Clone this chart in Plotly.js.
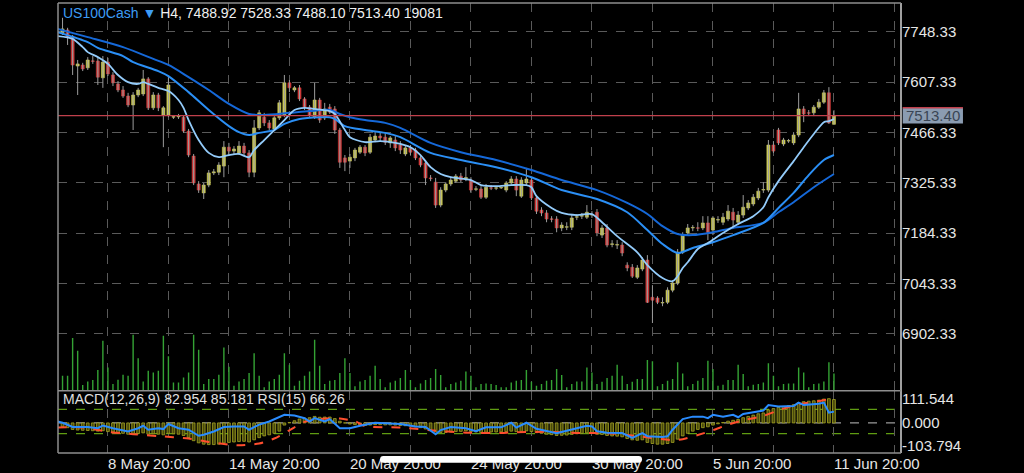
<!DOCTYPE html>
<html><head><meta charset="utf-8">
<script src="https://cdn.plot.ly/plotly-3.0.1.min.js"></script>
<style>html,body{margin:0;padding:0;background:#000;}#chart{width:1024px;height:473px;}</style>
</head><body><div id="chart"></div>
<script>
// ---------- text ----------
const symbolName = "US100Cash \u25BC";
const headerText = "H4, 7488.92 7528.33 7488.10 7513.40 19081";
const indicatorLabel = "MACD(12,26,9) 82.954 85.181 RSI(15) 66.26";
const lastPrice = 7513.40;
const lastPriceText = "7513.40";
const priceTicks = [6902.33, 7043.33, 7184.33, 7325.33, 7466.33, 7607.33, 7748.33];
const macdTicks = [-103.794, 0, 111.544];
const macdTickText = ["-103.794", "0.000", "111.544"];
const timeTickBars = [10, 22, 34, 46, 58, 70, 82, 94, 106, 118, 130, 142, 154, 166];
const timeTickLabels = ["8 May 20:00", "", "14 May 20:00", "", "20 May 20:00", "", "24 May 20:00", "", "30 May 20:00", "", "5 Jun 20:00", "", "11 Jun 20:00", ""];

// ---------- H4 candles (bar 1 .. 154) ----------
const open = [7745,7753,7733,7652,7655,7647,7666,7666,7619,7663,
7627,7602,7585,7568,7543,7571,7574,7616,7535,7571,
7515,7515,7509,7510,7509,7470,7400,7322,7297,7319,
7353,7355,7372,7425,7414,7409,7428,7409,7355,7479,
7509,7493,7476,7507,7515,7605,7585,7591,7560,7537,
7509,7557,7507,7537,7532,7473,7395,7386,7395,7411,
7425,7411,7445,7456,7453,7437,7445,7431,7406,7423,
7417,7395,7381,7339,7327,7263,7305,7322,7330,7344,
7337,7333,7307,7308,7285,7311,7310,7311,7305,7325,
7336,7288,7325,7333,7283,7249,7241,7224,7224,7199,
7201,7201,7229,7232,7229,7235,7243,7179,7199,7153,
7151,7151,7095,7089,7061,7084,7109,7005,7003,6989,
6991,7025,7045,7131,7185,7199,7199,7199,7213,7193,
7221,7215,7224,7243,7215,7235,7255,7266,7283,7305,
7305,7431,7473,7434,7442,7437,7459,7532,7521,7521,
7537,7551,7577,7488.92];
const high = [7787,7759,7739,7669,7661,7677,7680,7675,7680,7675,
7635,7610,7596,7577,7579,7591,7641,7621,7579,7577,
7540,7621,7515,7518,7515,7476,7406,7330,7325,7361,
7364,7383,7442,7437,7428,7442,7437,7417,7501,7529,
7521,7501,7512,7557,7627,7613,7596,7599,7565,7543,
7605,7563,7549,7546,7540,7479,7403,7406,7423,7431,
7431,7462,7467,7465,7465,7456,7456,7442,7431,7431,
7423,7403,7389,7347,7339,7313,7327,7341,7350,7353,
7369,7341,7316,7316,7322,7319,7316,7313,7330,7344,
7344,7341,7367,7341,7288,7257,7249,7232,7232,7215,
7215,7235,7238,7241,7263,7246,7252,7207,7210,7165,
7165,7159,7103,7098,7095,7117,7123,7039,7008,7005,
7033,7053,7140,7187,7210,7207,7215,7232,7232,7232,
7232,7241,7263,7255,7246,7291,7277,7294,7311,7327,
7445,7442,7479,7451,7448,7467,7577,7540,7529,7543,
7560,7585,7593,7528.33];
const low = [7739,7711,7627,7571,7638,7641,7658,7599,7591,7624,
7596,7579,7563,7537,7473,7565,7568,7529,7529,7526,
7425,7509,7504,7504,7465,7397,7319,7297,7280,7313,
7347,7347,7341,7406,7403,7403,7400,7341,7341,7473,
7484,7473,7470,7501,7509,7579,7579,7554,7529,7507,
7504,7493,7501,7518,7462,7367,7358,7367,7386,7406,
7400,7406,7439,7442,7431,7423,7414,7406,7400,7403,
7389,7369,7319,7330,7255,7257,7299,7316,7325,7327,
7330,7297,7302,7280,7280,7305,7305,7308,7299,7319,
7288,7283,7319,7277,7238,7232,7215,7215,7187,7190,
7193,7193,7221,7224,7224,7227,7176,7171,7145,7145,
7140,7120,7078,7059,7056,7078,6989,6933,6986,6980,
6986,7019,7039,7126,7179,7190,7190,7193,7165,7179,
7213,7207,7218,7199,7207,7227,7249,7260,7277,7297,
7299,7409,7431,7428,7437,7431,7453,7495,7512,7512,
7532,7546,7490,7488.10];
const close = [7756,7733,7655,7658,7644,7669,7665,7621,7663,7630,
7605,7585,7568,7543,7571,7585,7616,7535,7571,7535,
7535,7599,7510,7512,7470,7403,7325,7305,7319,7353,
7356,7375,7425,7414,7420,7428,7409,7355,7479,7521,
7493,7479,7507,7549,7605,7591,7591,7560,7537,7515,
7557,7501,7532,7523,7473,7383,7383,7397,7417,7425,
7409,7453,7456,7451,7439,7451,7423,7417,7423,7411,
7395,7375,7339,7337,7263,7305,7322,7333,7344,7333,
7340,7305,7308,7285,7313,7310,7311,7311,7325,7336,
7305,7333,7336,7283,7246,7241,7224,7223,7199,7207,
7202,7227,7230,7233,7243,7236,7185,7199,7151,7154,
7152,7129,7087,7064,7087,7109,6991,6997,6991,6990,
7025,7045,7131,7179,7199,7200,7198,7213,7187,7227,
7222,7229,7246,7221,7235,7257,7269,7285,7302,7306,
7431,7414,7437,7445,7443,7459,7532,7518,7520,7537,
7551,7577,7493,7513.40];
const volume = [16500,16500,58100,44100,6250,10300,11800,22800,55200,25700,
7350,12100,17600,16500,61800,35700,10300,22100,20200,22100,
60700,37900,9200,9200,14700,20200,61800,45200,7350,12900,
12900,17600,47800,26500,5500,10300,12900,19500,41200,16500,
3700,10300,12900,17600,41200,28700,5500,11000,16500,21300,
56300,27600,7350,11000,11800,19500,35700,19500,4800,10300,
11800,16500,27600,12900,3700,9200,11000,14000,22800,11800,
3700,8100,11800,14000,23900,17300,3700,7350,9200,11000,
21300,16500,3700,7350,8100,7350,6250,3700,3700,9200,
11000,11800,22800,9900,5500,7350,11000,11800,23900,17300,
3700,7350,10300,10300,25700,20200,7350,9900,14000,16500,
28700,16500,7350,9900,12900,12900,33800,32400,4800,7350,
11000,12900,31300,19100,4800,7350,11000,14000,33100,23900,
5500,6600,11800,11800,28700,18400,4800,6600,7350,9200,
30200,16500,4800,7350,8100,8100,25700,20200,3700,7350,
8100,10300,31300,19081];
const macdMain = [-18,-22,-30,-33,-34,-35,-36,-38,-36,-40,
-42,-45,-48,-52,-50,-49,-46,-52,-50,-52,
-55,-48,-50,-52,-58,-68,-82,-92,-98,-100,
-100,-98,-92,-90,-88,-86,-85,-88,-78,-68,
-60,-55,-48,-38,-10,2,10,18,22,24,
30,26,27,27,20,8,0,-5,-8,-10,
-12,-10,-8,-8,-9,-9,-10,-12,-13,-15,
-18,-22,-28,-32,-42,-44,-44,-42,-40,-39,
-37,-40,-42,-44,-43,-42,-42,-41,-40,-38,
-40,-39,-37,-40,-45,-48,-52,-54,-58,-57,
-56,-53,-50,-48,-46,-45,-52,-53,-58,-60,
-61,-64,-72,-78,-80,-78,-90,-95,-98,-98,
-95,-90,-75,-60,-48,-38,-30,-22,-18,-10,
-4,2,8,12,16,24,30,36,42,46,
60,66,72,76,80,84,94,98,100,102,
105,110,112,108];

// ---------- indicator lines read at sampled bars ----------
const ma1Bar = [0,3,5,6,8,10,12,14,16,17,18,20,22,24,25,26,28,30,32,34,36,38,39,41,43,45,47,49,51,54,55,57,58,61,64,67,70,72,74,76,78,82,84,87,90,93,94,95,98,100,103,106,108,111,115,117,120,122,123,124,125,127,129,132,135,138,140,141,143,146,148,150,152,153,154];
const ma1Val = [7736,7728,7705,7691,7677,7658,7627,7607,7602,7607,7602,7591,7582,7557,7535,7501,7445,7409,7397,7403,7406,7397,7417,7445,7473,7501,7529,7535,7532,7526,7518,7473,7453,7439,7442,7437,7425,7403,7369,7350,7341,7333,7319,7316,7319,7319,7313,7288,7255,7241,7235,7238,7215,7176,7131,7095,7059,7050,7064,7087,7103,7140,7157,7185,7210,7232,7257,7285,7330,7386,7425,7462,7495,7498,7504];
const ma2Bar = [0,6,8,13,15,20,22,26,30,34,36,38,40,43,45,48,52,54,55,57,61,65,68,74,80,87,94,100,107,113,117,120,123,126,130,134,140,143,146,149,152,154];
const ma2Val = [7747,7719,7703,7680,7663,7638,7624,7579,7529,7484,7467,7459,7465,7473,7490,7504,7509,7509,7504,7484,7473,7465,7453,7409,7389,7369,7341,7305,7280,7243,7193,7154,7129,7143,7159,7179,7213,7255,7297,7347,7389,7403];
const ma3Bar = [0,6,13,19,22,26,30,34,38,41,46,50,54,56,58,61,65,68,74,80,87,94,100,107,113,117,120,123,126,130,134,140,143,146,150,154];
const ma3Val = [7756,7733,7705,7672,7655,7621,7585,7546,7518,7515,7521,7526,7529,7518,7509,7501,7493,7479,7437,7411,7389,7361,7333,7305,7269,7238,7204,7182,7179,7187,7199,7213,7243,7271,7313,7350];
const signalBar = [0,5,10,15,20,26,30,34,36,40,43,46,49,53,56,59,61,68,74,81,88,90,97,103,110,116,122,124,127,130,133,136,140,143,146,150,153,154];
const signalVal = [-21,-21,-41,-52,-61,-72,-88,-100,-103,-95,-72,-34,5,20,20,8,-15,-21,-34,-45,-46,-44,-41,-46,-49,-64,-79,-75,-56,-34,-8,12,32,58,81,97,109,112];
const rsiBar = [0,1,3,6,8,9,11,14,16,17,18,20,21,22,24,26,28,29,31,33,35,37,38,40,42,43,45,47,49,50,51,53,54,56,58,60,63,65,68,71,73,75,76,78,81,83,85,88,90,91,93,95,97,99,101,103,105,106,107,109,112,114,116,117,120,121,122,124,126,128,129,130,132,134,135,136,140,141,143,146,147,148,151,152,153,154];
const rsiVal = [50,48,41,41,39,43.5,39,33.7,39,43,36.5,39,37.6,46,39,36.5,26.7,28.3,33.7,41,42,42,36.5,45,50,54,61,60,55.5,50,55.5,50,54,39,39,43,48,47,46,42,41,29,36,41,39,34,40.5,40.5,48,40,48,38,35,31,35,39,43,42,34,31.5,31,23.3,31,26,24.6,25.7,36.5,54,58,58,55.5,61,58,61,57,62.5,68,77,74.5,75.6,81,77,79,81,64.5,66.26];

// ---------- styles ----------
const UP = '#cfcd55', DOWN = '#cf3a3a', WICK = '#9c9c9c';
const GRID = '#5a5a5a';
const FONT = 'Arial, "Liberation Sans", Helvetica, sans-serif';
const PRICE_RANGE = [6743.6, 7828.4];
const PRICE_PANEL_PX = 387.7;

const bars = open.map((_, k) => k + 1);
const wickX = [], wickY = [];
bars.forEach((b, k) => { wickX.push(b, b, null); wickY.push(low[k], high[k], null); });
const bodyBase = open.map((o, k) => Math.min(o, close[k]));
const bodyLen = open.map((o, k) => Math.max(Math.abs(close[k] - o), 1.5));
const bodyCol = open.map((o, k) => close[k] >= o ? UP : DOWN);

const traces = [
  {type:'bar', x:bars, y:volume, yaxis:'y3', width:0.28, marker:{color:'#34a234', line:{width:0}}, hoverinfo:'skip'},
  {type:'scatter', mode:'lines', x:wickX, y:wickY, line:{color:WICK, width:1}, hoverinfo:'skip'},
  {type:'bar', x:bars, y:bodyLen, base:bodyBase, width:0.6, marker:{color:bodyCol, line:{color:bodyCol, width:0.6}}, hoverinfo:'skip'},
  {type:'scatter', mode:'lines', x:ma3Bar, y:ma3Val, line:{color:'#1568d8', width:2, shape:'spline', smoothing:0.8}},
  {type:'scatter', mode:'lines', x:ma2Bar, y:ma2Val, line:{color:'#2b8ff5', width:2, shape:'spline', smoothing:0.8}},
  {type:'scatter', mode:'lines', x:ma1Bar, y:ma1Val, line:{color:'#93cbfa', width:1.8, shape:'spline', smoothing:0.8}},
  {type:'bar', x:bars, y:macdMain, yaxis:'y2', width:0.55, marker:{color:'#4a4a0c', line:{color:'#a3a322', width:0.8}}, hoverinfo:'skip'},
  {type:'scatter', mode:'lines', x:signalBar, y:signalVal, yaxis:'y2', line:{color:'#ff4e2e', width:2, dash:'dash', shape:'spline', smoothing:0.7}},
  {type:'scatter', mode:'lines', x:rsiBar, y:rsiVal, yaxis:'y4', line:{color:'#2a8cff', width:2}}
];

const pxToPrice = (PRICE_RANGE[1] - PRICE_RANGE[0]) / PRICE_PANEL_PX;
const boxHalf = 7.8 * pxToPrice;
const split = 0.1384;

// home-indicator pill (phone screenshot overlay)
const hx0 = 0.382, hx1 = 0.6928, hyT = -0.0067, hyB = -0.0216, hyM = (hyT + hyB) / 2, hr = 0.004;
const pillPath = `M ${hx0+hr},${hyT} L ${hx1-hr},${hyT} Q ${hx1},${hyT} ${hx1},${hyM} Q ${hx1},${hyB} ${hx1-hr},${hyB} L ${hx0+hr},${hyB} Q ${hx0},${hyB} ${hx0},${hyM} Q ${hx0},${hyT} ${hx0+hr},${hyT} Z`;

const frame = {color:'#8e8e8e', width:1.5};
const layout = {
  width:1024, height:473,
  paper_bgcolor:'#000', plot_bgcolor:'#000',
  margin:{l:58, r:123, t:3, b:20},
  showlegend:false, barmode:'overlay', hovermode:false,
  font:{family:FONT, color:'#e6e6e6', size:15},
  xaxis:{range:[0.1, 167.3], anchor:'y2', tickvals:timeTickBars, ticktext:timeTickLabels,
         ticklabelposition:'outside right', ticks:'', showgrid:true, gridcolor:GRID, griddash:'dash', gridwidth:1,
         zeroline:false, showline:false, tickfont:{size:15, color:'#e6e6e6'}},
  yaxis:{domain:[split, 1], range:PRICE_RANGE, side:'right', tickvals:priceTicks, ticktext:priceTicks.map(v => v.toFixed(2)),
         ticks:'', showgrid:true, gridcolor:GRID, griddash:'dash', gridwidth:1, zeroline:false, showline:false,
         tickfont:{size:15, color:'#e6e6e6'}},
  yaxis2:{domain:[0, split], range:[-138.8, 148.5], side:'right', tickvals:macdTicks, ticktext:macdTickText,
          ticks:'', showgrid:false, zeroline:false, showline:false, tickfont:{size:15, color:'#e6e6e6'}},
  yaxis3:{overlaying:'y', range:[0, 427600], visible:false},
  yaxis4:{overlaying:'y2', range:[-1.6, 100.5], visible:false},
  shapes:[
    {type:'line', xref:'paper', yref:'y4', x0:0, x1:1, y0:70, y1:70, line:{color:'#5f9c12', width:1.3, dash:'dash'}, layer:'below'},
    {type:'line', xref:'paper', yref:'y4', x0:0, x1:1, y0:30, y1:30, line:{color:'#5f9c12', width:1.3, dash:'dash'}, layer:'below'},
    {type:'line', xref:'paper', yref:'y2', x0:0, x1:1, y0:0, y1:0, line:{color:'#9a9a9a', width:1.2, dash:'dash'}, layer:'below'},
    {type:'line', xref:'paper', yref:'y', x0:0, x1:1, y0:lastPrice, y1:lastPrice, line:{color:'#c0404c', width:1.2}},
    {type:'rect', xref:'paper', yref:'y', x0:1.002, x1:1.0735, y0:lastPrice - boxHalf, y1:lastPrice + boxHalf, fillcolor:'#8b9cb1', line:{width:0}},
    {type:'line', xref:'paper', yref:'y', x0:1.002, x1:1.0735, y0:lastPrice + boxHalf, y1:lastPrice + boxHalf, line:{color:'#c0404c', width:1.5}},
    {type:'line', xref:'paper', yref:'paper', x0:0, x1:0, y0:0, y1:1, line:frame},
    {type:'line', xref:'paper', yref:'paper', x0:1, x1:1, y0:0, y1:1, line:{color:'#a0a0a0', width:2}},
    {type:'line', xref:'paper', yref:'paper', x0:0, x1:1, y0:1, y1:1, line:frame},
    {type:'line', xref:'paper', yref:'paper', x0:0, x1:1, y0:0, y1:0, line:frame},
    {type:'line', xref:'paper', yref:'paper', x0:0, x1:1, y0:split, y1:split, line:frame},
    {type:'path', xref:'paper', yref:'paper', path:pillPath, fillcolor:'#ffffff', line:{width:0}, layer:'above'}
  ],
  annotations:[
    {xref:'paper', yref:'paper', x:0.003, y:0.977, xanchor:'left', yanchor:'middle', showarrow:false,
     text:`<span style="color:#3d9cf5">${symbolName}</span> ${headerText}`, font:{size:14, color:'#f0f0f0', family:FONT}},
    {xref:'paper', yref:'paper', x:0.003, y:0.12, xanchor:'left', yanchor:'middle', showarrow:false,
     text:indicatorLabel, font:{size:14, color:'#e0e0e0', family:FONT}},
    {xref:'paper', yref:'y', x:1.0378, y:lastPrice, xanchor:'center', yanchor:'middle', showarrow:false,
     text:lastPriceText, font:{size:15, color:'#3a4554', family:FONT}}
  ]
};

Plotly.newPlot('chart', traces, layout, {staticPlot:true, displayModeBar:false});
</script>
</body></html>
